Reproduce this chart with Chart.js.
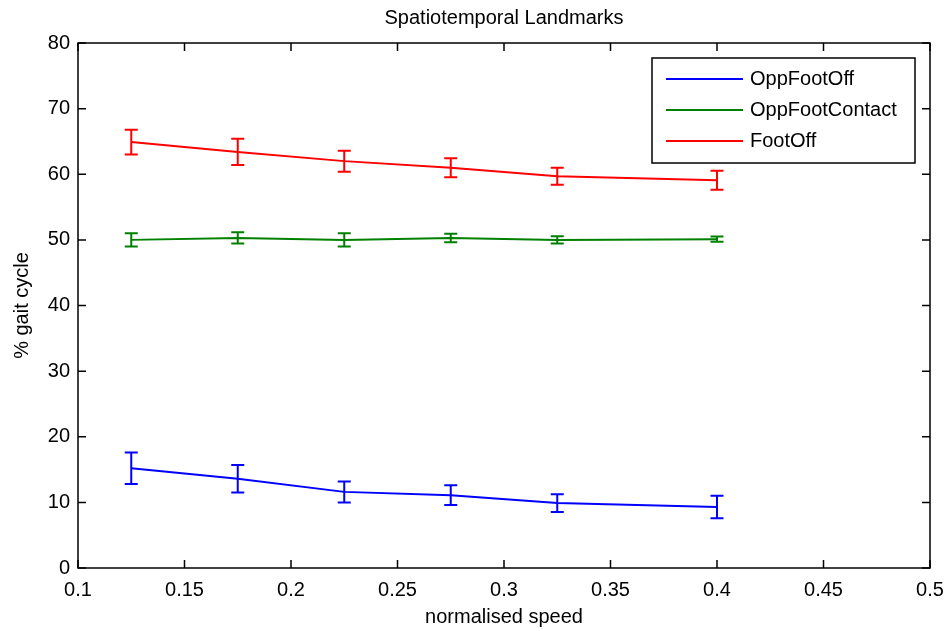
<!DOCTYPE html>
<html>
<head>
<meta charset="utf-8">
<script src="https://cdn.jsdelivr.net/npm/chart.js@4.4.0/dist/chart.umd.min.js"></script>
<style>
  html, body { margin: 0; padding: 0; background: #fff; }
  #wrap { width: 944px; height: 631px; }
</style>
</head>
<body>
<div id="wrap"><canvas id="canvas" width="944" height="631"></canvas></div>
<script>
var speeds = [0.125, 0.175, 0.225, 0.275, 0.325, 0.4];
var oppFootOff = [15.2, 13.6, 11.6, 11.1, 9.9, 9.3];
var oppFootOffErr = [2.4, 2.1, 1.6, 1.5, 1.35, 1.7];
var oppFootContact = [50.0, 50.3, 50.0, 50.3, 50.0, 50.1];
var oppFootContactErr = [1.0, 0.85, 1.0, 0.65, 0.55, 0.4];
var footOff = [64.9, 63.4, 62.0, 61.0, 59.7, 59.1];
var footOffErr = [1.9, 2.0, 1.6, 1.45, 1.3, 1.45];
var xTicks = [0.1, 0.15, 0.2, 0.25, 0.3, 0.35, 0.4, 0.45, 0.5];
var yTicks = [0, 10, 20, 30, 40, 50, 60, 70, 80];

var FONT = '"Liberation Sans", Arial, Helvetica, sans-serif';

function pts(ys) {
  return speeds.map(function(s, i) { return { x: s, y: ys[i] }; });
}

function series(label, ys, errs, color) {
  return {
    label: label,
    data: pts(ys),
    errors: errs,
    borderColor: color,
    backgroundColor: color,
    borderWidth: 2,
    pointRadius: 0,
    tension: 0,
    fill: false
  };
}

// error bars, frame with inward ticks, and boxed legend inside the axes
var matlabLook = {
  id: 'matlabLook',
  afterDatasetsDraw: function(chart) {
    var ctx = chart.ctx;
    var xs = chart.scales.x, ys = chart.scales.y;
    ctx.save();
    chart.data.datasets.forEach(function(ds) {
      ctx.strokeStyle = ds.borderColor;
      ctx.lineWidth = 2;
      ds.data.forEach(function(p, i) {
        var e = ds.errors[i];
        var px = xs.getPixelForValue(p.x);
        var top = ys.getPixelForValue(p.y + e);
        var bot = ys.getPixelForValue(p.y - e);
        ctx.beginPath();
        ctx.moveTo(px, top); ctx.lineTo(px, bot);
        ctx.moveTo(px - 6.5, top); ctx.lineTo(px + 6.5, top);
        ctx.moveTo(px - 6.5, bot); ctx.lineTo(px + 6.5, bot);
        ctx.stroke();
      });
    });

    var a = chart.chartArea;
    ctx.strokeStyle = '#000';
    ctx.lineWidth = 1.5;
    ctx.strokeRect(a.left, a.top, a.right - a.left, a.bottom - a.top);
    var tl = 8;
    ctx.beginPath();
    xs.ticks.forEach(function(t, i) {
      var px = xs.getPixelForTick(i);
      ctx.moveTo(px, a.bottom); ctx.lineTo(px, a.bottom - tl);
      ctx.moveTo(px, a.top); ctx.lineTo(px, a.top + tl);
    });
    ys.ticks.forEach(function(t, i) {
      var py = ys.getPixelForTick(i);
      ctx.moveTo(a.left, py); ctx.lineTo(a.left + tl, py);
      ctx.moveTo(a.right, py); ctx.lineTo(a.right - tl, py);
    });
    ctx.stroke();

    // legend
    var bw = 263, bh = 105;
    var bx = a.right - 15 - bw, by = a.top + 15;
    ctx.fillStyle = '#fff';
    ctx.fillRect(bx, by, bw, bh);
    ctx.strokeStyle = '#000';
    ctx.lineWidth = 1.5;
    ctx.strokeRect(bx, by, bw, bh);
    ctx.font = '20px ' + FONT;
    ctx.textBaseline = 'middle';
    ctx.textAlign = 'left';
    chart.data.datasets.forEach(function(ds, i) {
      var ry = by + 21 + i * 31;
      ctx.strokeStyle = ds.borderColor;
      ctx.lineWidth = 2;
      ctx.beginPath();
      ctx.moveTo(bx + 14, ry); ctx.lineTo(bx + 91, ry);
      ctx.stroke();
      ctx.fillStyle = '#000';
      ctx.fillText(ds.label, bx + 98, ry);
    });
    ctx.restore();
  }
};

window.onload = function() {
  var ctx = document.getElementById('canvas').getContext('2d');
  window.myChart = new Chart(ctx, {
    type: 'line',
    data: {
      datasets: [
        series('OppFootOff', oppFootOff, oppFootOffErr, '#0000ff'),
        series('OppFootContact', oppFootContact, oppFootContactErr, '#008000'),
        series('FootOff', footOff, footOffErr, '#ff0000')
      ]
    },
    plugins: [matlabLook],
    options: {
      responsive: false,
      animation: false,
      layout: { padding: { left: 0, right: 0, top: 0, bottom: 0 } },
      plugins: {
        legend: { display: false },
        tooltip: { enabled: false },
        title: {
          display: true,
          fullSize: false,
          text: 'Spatiotemporal Landmarks',
          color: '#000',
          font: { family: FONT, size: 20, weight: 'normal' },
          padding: { top: 6, bottom: 13 }
        }
      },
      scales: {
        x: {
          type: 'linear',
          min: 0.1,
          max: 0.5,
          afterBuildTicks: function(s) { s.ticks = xTicks.map(function(v) { return { value: v }; }); },
          afterFit: function(s) { s.height = 63; s.paddingLeft = 0; s.paddingRight = 14; },
          grid: { display: false, drawTicks: false },
          border: { display: false },
          ticks: {
            color: '#000',
            padding: 10,
            maxRotation: 0,
            autoSkip: false,
            font: { family: FONT, size: 20 },
            callback: function(v) { return String(v); }
          },
          title: {
            display: true,
            text: 'normalised speed',
            color: '#000',
            font: { family: FONT, size: 20 },
            padding: { top: 0, bottom: 2 }
          }
        },
        y: {
          min: 0,
          max: 80,
          afterBuildTicks: function(s) { s.ticks = yTicks.map(function(v) { return { value: v }; }); },
          afterFit: function(s) { s.width = 78; },
          grid: { display: false, drawTicks: false },
          border: { display: false },
          ticks: {
            color: '#000',
            padding: 8,
            autoSkip: false,
            font: { family: FONT, size: 20 },
            callback: function(v) { return String(v); }
          },
          title: {
            display: true,
            text: '% gait cycle',
            color: '#000',
            font: { family: FONT, size: 20 },
            padding: { top: 10, bottom: 0 }
          }
        }
      }
    }
  });
};
</script>
</body>
</html>
